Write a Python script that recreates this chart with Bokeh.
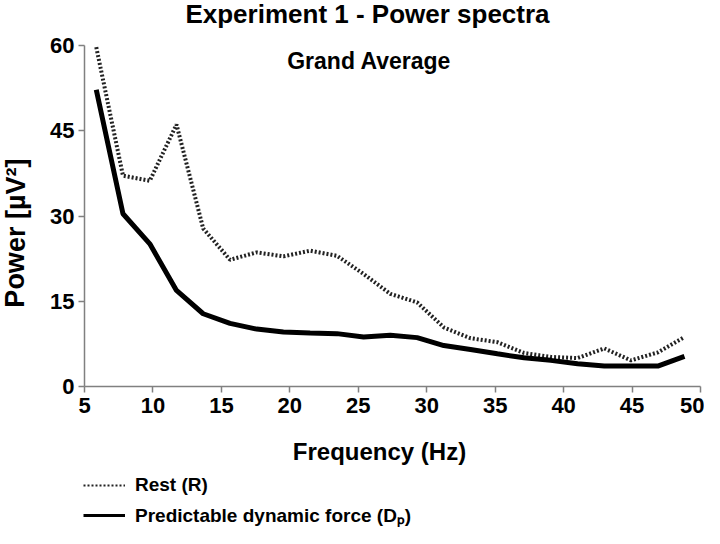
from bokeh.plotting import figure
from bokeh.layouts import column, row
from bokeh.models import Range1d, FixedTicker, Label, Legend, LegendItem, ColumnDataSource
from bokeh.embed import file_html
from bokeh.resources import INLINE

# ---- data ----
freq = [5.86, 7.81, 9.77, 11.72, 13.67, 15.63, 17.58, 19.53, 21.48, 23.44,
        25.39, 27.34, 29.30, 31.25, 33.20, 35.16, 37.11, 39.06, 41.02, 42.97,
        44.92, 46.88, 48.83]
rest = [59.7, 37.1, 36.2, 46.1, 27.8, 22.3, 23.6, 22.9, 23.9, 23.0,
        19.8, 16.3, 14.8, 10.4, 8.5, 7.8, 5.9, 5.2, 5.0, 6.7,
        4.6, 6.0, 8.7]
dp = [52.2, 30.4, 25.1, 16.9, 12.8, 11.1, 10.1, 9.6, 9.4, 9.3,
      8.7, 9.0, 8.6, 7.2, 6.5, 5.75, 5.05, 4.6, 4.0, 3.6,
      3.6, 3.6, 5.3]
x_ticks = [5, 10, 15, 20, 25, 30, 35, 40, 45, 50]
y_ticks = [0, 15, 30, 45, 60]
title_text = "Experiment 1 - Power spectra"
subtitle_text = "Grand Average"
x_label = "Frequency (Hz)"
y_label = "Power [µV²]"
legend_labels = ["Rest (R)", "Predictable dynamic force (Dₚ)"]

FONT = "Liberation Sans"
tfont = dict(text_font=FONT, text_font_style="bold", text_color="black")


def blank(w, h):
    """A figure without axes whose frame is the whole canvas (1 unit = 1 px)."""
    f = figure(width=w, height=h, output_backend="svg", toolbar_location=None,
               x_range=Range1d(0, w), y_range=Range1d(0, h),
               x_axis_type=None, y_axis_type=None,
               min_border_left=0, min_border_right=0, min_border_top=0,
               min_border_bottom=0)
    f.outline_line_color = None
    f.grid.visible = False
    return f


# ---- title strip ----
TH = 33
t = blank(704, TH)
t.add_layout(Label(x=367, y=TH - 13, text=title_text, text_align="center",
                   text_baseline="middle", text_font_size="26px", **tfont))

# ---- main chart ----
PH = 389
p = figure(width=668, height=PH, output_backend="svg", toolbar_location=None,
           x_range=Range1d(5, 50), y_range=Range1d(0, 60),
           min_border_left=48, min_border_right=4, min_border_top=12,
           min_border_bottom=36)
p.outline_line_color = None
p.grid.visible = False
p.background_fill_color = "white"
p.border_fill_color = "white"

for ax in (p.xaxis[0], p.yaxis[0]):
    ax.axis_line_color = "#808080"
    ax.axis_line_width = 1.5
    ax.major_tick_line_color = "#808080"
    ax.major_tick_line_width = 1.5
    ax.major_tick_out = 6
    ax.major_tick_in = 0
    ax.minor_tick_line_color = None
    ax.major_label_text_font = FONT
    ax.major_label_text_font_style = "bold"
    ax.major_label_text_font_size = "22px"
    ax.major_label_text_color = "black"
p.xaxis[0].ticker = FixedTicker(ticks=x_ticks)
p.yaxis[0].ticker = FixedTicker(ticks=y_ticks)
p.xaxis[0].major_label_standoff = 5
p.yaxis[0].major_label_standoff = 4

src = ColumnDataSource(dict(f=freq, rest=rest, dp=dp))
r_rest = p.line("f", "rest", source=src, line_color="#222222", line_width=4,
                line_dash="2 2")
r_dp = p.line("f", "dp", source=src, line_color="black", line_width=5)

p.add_layout(Label(x=25.8, y=57.2, text=subtitle_text, text_align="center",
                   text_baseline="middle", text_font_size="23px",
                   x_units="data", y_units="data", **tfont))

# ---- y-label strip ----
yl = blank(36, PH)
yl.add_layout(Label(x=15, y=PH - (247 - TH), text=y_label, text_align="center",
                    text_baseline="middle", angle=1.5707963,
                    text_font_size="27px", **tfont))

# ---- bottom strip: x label + legend ----
QH = 528 - TH - PH
q = blank(704, QH)
q.add_layout(Label(x=379, y=QH - (451 - TH - PH), text=x_label,
                   text_align="center", text_baseline="middle",
                   text_font_size="24px", **tfont))
nan = float("nan")
lg_rest = q.line(x=[nan], y=[nan], line_color="#222222", line_width=2,
                 line_dash="2 2")
lg_dp = q.line(x=[nan], y=[nan], line_color="black", line_width=3)
legend = Legend(items=[LegendItem(label=legend_labels[0], renderers=[lg_rest]),
                       LegendItem(label=legend_labels[1], renderers=[lg_dp])],
                location=(83, 0), orientation="vertical",
                padding=0, margin=0, spacing=6,
                glyph_width=42, glyph_height=22, label_height=22,
                label_standoff=10, border_line_color=None,
                background_fill_alpha=0,
                label_text_font=FONT, label_text_font_style="bold",
                label_text_font_size="19px", label_text_color="black")
q.add_layout(legend, "center")

layout = column(t, row(yl, p, spacing=0), q, spacing=0)
open("out.html", "w").write(file_html(layout, INLINE))
